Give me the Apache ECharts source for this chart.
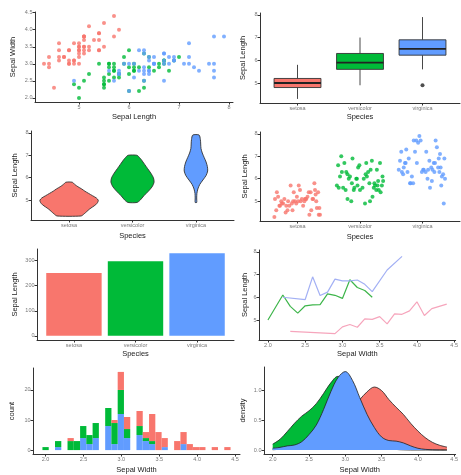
<!DOCTYPE html>
<html>
<head>
<meta charset="utf-8">
<script src="https://cdn.jsdelivr.net/npm/echarts@6/dist/echarts.min.js"></script>
<style>
  html, body { margin: 0; padding: 0; background: #fff; }
  #chart { width: 461px; height: 475px; }
</style>
</head>
<body>
<div id="chart"></div>
<script>
// iris: species names and colours
const speciesNames = ['setosa', 'versicolor', 'virginica'];
const speciesColors = ['#F8766D', '#00BA38', '#619CFF'];

// raw measurements (Sepal.Length / Sepal.Width) per species
const setosaSL = [5.1,4.9,4.7,4.6,5.0,5.4,4.6,5.0,4.4,4.9,5.4,4.8,4.8,4.3,5.8,5.7,5.4,5.1,5.7,5.1,5.4,5.1,4.6,5.1,4.8,5.0,5.0,5.2,5.2,4.7,4.8,5.4,5.2,5.5,4.9,5.0,5.5,4.9,4.4,5.1,5.0,4.5,4.4,5.0,5.1,4.8,5.1,4.6,5.3,5.0];
const setosaSW = [3.5,3.0,3.2,3.1,3.6,3.9,3.4,3.4,2.9,3.1,3.7,3.4,3.0,3.0,4.0,4.4,3.9,3.5,3.8,3.8,3.4,3.7,3.6,3.3,3.4,3.0,3.4,3.5,3.4,3.2,3.1,3.4,4.1,4.2,3.1,3.2,3.5,3.6,3.0,3.4,3.5,2.3,3.2,3.5,3.8,3.0,3.8,3.2,3.7,3.3];
const versicolorSL = [7.0,6.4,6.9,5.5,6.5,5.7,6.3,4.9,6.6,5.2,5.0,5.9,6.0,6.1,5.6,6.7,5.6,5.8,6.2,5.6,5.9,6.1,6.3,6.1,6.4,6.6,6.8,6.7,6.0,5.7,5.5,5.5,5.8,6.0,5.4,6.0,6.7,6.3,5.6,5.5,5.5,6.1,5.8,5.0,5.6,5.7,5.7,6.2,5.1,5.7];
const versicolorSW = [3.2,3.2,3.1,2.3,2.8,2.8,3.3,2.4,2.9,2.7,2.0,3.0,2.2,2.9,2.9,3.1,3.0,2.7,2.2,2.5,3.2,2.8,2.5,2.8,2.9,3.0,2.8,3.0,2.9,2.6,2.4,2.4,2.7,2.7,3.0,3.4,3.1,2.3,3.0,2.5,2.6,3.0,2.6,2.3,2.7,3.0,2.9,2.9,2.5,2.8];
const virginicaSL = [6.3,5.8,7.1,6.3,6.5,7.6,4.9,7.3,6.7,7.2,6.5,6.4,6.8,5.7,5.8,6.4,6.5,7.7,7.7,6.0,6.9,5.6,7.7,6.3,6.7,7.2,6.2,6.1,6.4,7.2,7.4,7.9,6.4,6.3,6.1,7.7,6.3,6.4,6.0,6.9,6.7,6.9,5.8,6.8,6.7,6.7,6.3,6.5,6.2,5.9];
const virginicaSW = [3.3,2.7,3.0,2.9,3.0,3.0,2.5,2.9,2.5,3.6,3.2,2.7,3.0,2.5,2.8,3.2,3.0,3.8,2.6,2.2,3.2,2.8,2.8,2.7,3.3,3.2,2.8,3.0,2.8,3.0,2.8,3.8,2.8,2.8,2.6,3.0,3.4,3.1,3.0,3.1,3.1,3.1,2.7,3.2,3.3,3.0,2.5,3.0,3.4,3.0];

// boxplot: [lower whisker, Q1, median, Q3, upper whisker]
const boxStats = [
  [4.3, 4.8, 5.0, 5.2, 5.8],
  [4.9, 5.6, 5.9, 6.3, 7.0],
  [5.6, 6.225, 6.5, 6.9, 7.9]
];
const boxOutliers = [[3, 4.9]];

// violin outlines: sepal length and half width (in category units)
const setosaViolinY = [4.3,4.4,4.5,4.6,4.7,4.8,4.9,5.0,5.1,5.2,5.3,5.4,5.5,5.6,5.7,5.8];
const setosaViolinW = [0.19,0.24,0.28,0.32,0.37,0.42,0.45,0.46,0.43,0.37,0.31,0.25,0.2,0.14,0.09,0.05];
const versicolorViolinY = [4.9,5.0,5.2,5.4,5.6,5.8,6.0,6.2,6.4,6.6,6.8,6.9,7.0];
const versicolorViolinW = [0.07,0.12,0.18,0.25,0.31,0.34,0.33,0.29,0.24,0.19,0.14,0.11,0.07];
const virginicaViolinY = [4.9,5.1,5.3,5.5,5.7,5.9,6.1,6.3,6.5,6.7,6.9,7.1,7.3,7.5,7.7,7.9];
const virginicaViolinW = [0.012,0.012,0.015,0.03,0.06,0.11,0.16,0.185,0.18,0.16,0.13,0.1,0.08,0.075,0.07,0.05];

// jitter offsets
const setosaJitter = [0.12,-0.25,0.31,-0.08,0.05,-0.33,0.22,-0.15,0.36,-0.02,0.18,-0.29,0.09,-0.37,0.27,-0.11,0.33,-0.21,0.02,0.14,-0.06,0.25,-0.34,0.07,-0.18,0.30,-0.26,0.16,-0.01,0.35,-0.13,0.21,-0.31,0.04,-0.23,0.11,0.28,-0.09,0.19,-0.36,0.01,-0.19,0.34,-0.04,0.24,-0.28,0.13,-0.16,0.29,-0.07];
const versicolorJitter = [-0.3,0.17,-0.12,0.26,-0.03,0.35,-0.22,0.08,-0.35,0.2,-0.14,0.29,-0.05,0.11,-0.27,0.32,-0.09,0.23,-0.2,0.04,0.37,-0.16,0.13,-0.32,0.27,-0.01,0.19,-0.25,0.06,-0.37,0.3,-0.1,0.15,-0.18,0.33,-0.06,0.1,-0.29,0.22,0.0,-0.23,0.36,-0.13,0.16,-0.34,0.28,-0.04,0.09,-0.2,0.24];
const virginicaJitter = [0.05,-0.2,0.28,-0.33,0.14,-0.07,0.34,-0.26,0.18,-0.12,0.25,0.02,-0.36,0.3,-0.15,0.09,-0.3,0.21,-0.03,0.36,-0.22,0.12,-0.1,0.27,-0.28,0.06,0.33,-0.17,0.16,-0.34,0.23,-0.05,0.01,-0.24,0.31,-0.14,0.19,-0.38,0.08,0.26,-0.09,0.35,-0.19,0.11,-0.27,0.2,-0.01,0.29,-0.31,0.15];

// bar: summed sepal length
const barSums = [250.3, 296.8, 329.4];

// line: mean sepal length per sepal width
const setosaLineX = [2.3,2.9,3.0,3.1,3.2,3.3,3.4,3.5,3.6,3.7,3.8,3.9,4.0,4.1,4.2,4.4];
const setosaLineY = [4.5,4.4,4.7,4.8,4.68,5.05,5.03,5.15,4.83,5.27,5.25,5.4,5.8,5.2,5.5,5.7];
const versicolorLineX = [2.0,2.2,2.3,2.4,2.5,2.6,2.7,2.8,2.9,3.0,3.1,3.2,3.3,3.4];
const versicolorLineY = [5.0,6.1,5.6,5.3,5.625,5.667,5.68,6.15,6.086,5.95,6.77,6.43,6.3,6.0];
const virginicaLineX = [2.2,2.5,2.6,2.7,2.8,2.9,3.0,3.1,3.2,3.3,3.4,3.6,3.8];
const virginicaLineY = [6.0,5.9,6.9,6.075,6.225,6.8,6.72,6.725,6.76,6.57,6.25,7.2,7.8];

// histogram (30 bins), non-empty bin centres and counts
const histCenters = [2.000,2.166,2.331,2.414,2.497,2.579,2.662,2.828,2.910,2.993,3.076,3.241,3.324,3.407,3.490,3.572,3.738,3.821,3.903,3.986,4.069,4.234,4.400];
const histSetosa =     [0,0,1,0,0,0,0,0,1,6,4,5,2,9,6,3,3,4,2,1,1,1,1];
const histVersicolor = [1,2,3,3,4,3,5,6,7,8,3,3,1,1,0,0,0,0,0,0,0,0,0];
const histVirginica =  [0,1,0,0,4,2,4,8,2,12,4,5,3,2,0,1,0,2,0,0,0,0,0];
const histBinWidth = 0.0828;

// density curves
const densityX = [2.0,2.1,2.2,2.3,2.4,2.5,2.6,2.7,2.8,2.9,3.0,3.1,3.2,3.3,3.4,3.5,3.6,3.7,3.8,3.9,4.0,4.1,4.2,4.3,4.4];
const setosaDensity = [0.005,0.015,0.04,0.06,0.055,0.04,0.05,0.1,0.2,0.35,0.55,0.72,0.85,0.98,1.06,1.0,0.85,0.72,0.6,0.45,0.32,0.21,0.13,0.08,0.05];
const versicolorDensity = [0.1,0.18,0.31,0.45,0.57,0.66,0.78,0.95,1.13,1.24,1.18,0.95,0.65,0.4,0.2,0.08,0.03,0.01,0.003,0,0,0,0,0,0];
const virginicaDensity = [0.03,0.045,0.07,0.085,0.14,0.26,0.42,0.68,0.98,1.22,1.32,1.17,0.88,0.6,0.38,0.22,0.16,0.15,0.12,0.07,0.03,0.012,0.004,0.001,0];

const FONT = 'Liberation Sans, Arial, sans-serif';
const fmt1 = v => v.toFixed(1);
const fmt0 = v => String(Math.round(v));
const fmtCat = v => speciesNames[Math.round(v) - 1];

function valueAxis(gi, min, max, ticks, fmt, name, gap) {
  return {
    type: 'value', gridIndex: gi, min: min, max: max,
    name: name, nameLocation: 'middle', nameGap: gap,
    nameTextStyle: { fontSize: 7.5, color: '#222', fontFamily: FONT },
    axisLine: { onZero: false, lineStyle: { color: '#333', width: 1 } },
    axisTick: { length: 2.5, customValues: ticks, lineStyle: { color: '#333' } },
    axisLabel: { customValues: ticks, formatter: fmt, fontSize: 5.5, color: '#777', margin: 2.5, fontFamily: FONT },
    splitLine: { show: false }
  };
}

const grids = [
  { left: 35, top: 12, width: 198, height: 90 },
  { left: 260, top: 13, width: 200, height: 90 },
  { left: 31, top: 131, width: 203, height: 89 },
  { left: 260, top: 132, width: 200, height: 89 },
  { left: 37, top: 249, width: 197, height: 91 },
  { left: 259, top: 250, width: 203, height: 90 },
  { left: 33, top: 368, width: 207, height: 89 },
  { left: 264, top: 367, width: 203, height: 90 }
];

const swTicks = [2, 2.5, 3, 3.5, 4, 4.5];
const slTicks = [5, 6, 7, 8];
const catTicks = [1, 2, 3];

const xAxes = [
  valueAxis(0, 4.12, 8.08, slTicks, fmt0, 'Sepal Length', 11),
  valueAxis(1, 0.4, 3.6, catTicks, fmtCat, 'Species', 10),
  valueAxis(2, 0.4, 3.6, catTicks, fmtCat, 'Species', 12),
  valueAxis(3, 0.4, 3.6, catTicks, fmtCat, 'Species', 12),
  valueAxis(4, 0.4, 3.6, catTicks, fmtCat, 'Species', 10),
  valueAxis(5, 1.88, 4.52, swTicks, fmt1, 'Sepal Width', 10),
  valueAxis(6, 1.834, 4.566, swTicks, fmt1, 'Sepal Width', 12),
  valueAxis(7, 1.88, 4.52, swTicks, fmt1, 'Sepal Width', 12)
];
const yAxes = [
  valueAxis(0, 1.88, 4.52, swTicks, fmt1, 'Sepal Width', 18),
  valueAxis(1, 4.12, 8.08, slTicks, fmt0, 'Sepal Length', 13),
  valueAxis(2, 4.12, 8.08, slTicks, fmt0, 'Sepal Length', 12),
  valueAxis(3, 4.12, 8.08, slTicks, fmt0, 'Sepal Length', 11),
  valueAxis(4, -16.47, 345.9, [0, 100, 200, 300], fmt0, 'Sepal Length', 18),
  valueAxis(5, 4.12, 8.08, slTicks, fmt0, 'Sepal Length', 10),
  valueAxis(6, -1.3, 27.3, [0, 10, 20], fmt0, 'count', 17),
  valueAxis(7, -0.0665, 1.397, [0, 0.5, 1], fmt1, 'density', 17)
];

const series = [];
const SL = [setosaSL, versicolorSL, virginicaSL];
const SW = [setosaSW, versicolorSW, virginicaSW];

// 1. scatter
SL.forEach((sl, s) => {
  series.push({
    type: 'scatter', xAxisIndex: 0, yAxisIndex: 0, symbolSize: 4,
    itemStyle: { color: speciesColors[s] },
    data: sl.map((v, i) => [v, SW[s][i]])
  });
});

// 2. boxplot
series.push({
  type: 'custom', xAxisIndex: 1, yAxisIndex: 1,
  data: boxStats.map((b, i) => [i + 1].concat(b)),
  renderItem: (params, api) => {
    const x = api.value(0);
    const hw = 0.375;
    const tl = api.coord([x - hw, api.value(4)]);
    const br = api.coord([x + hw, api.value(2)]);
    const hi = api.coord([x, api.value(5)]);
    const lo = api.coord([x, api.value(1)]);
    const md = api.coord([x, api.value(3)]);
    const st = { stroke: '#333', lineWidth: 0.9 };
    return { type: 'group', children: [
      { type: 'line', shape: { x1: hi[0], y1: hi[1], x2: hi[0], y2: tl[1] }, style: st },
      { type: 'line', shape: { x1: lo[0], y1: lo[1], x2: lo[0], y2: br[1] }, style: st },
      { type: 'rect', shape: { x: tl[0], y: tl[1], width: br[0] - tl[0], height: br[1] - tl[1] },
        style: { fill: speciesColors[params.dataIndex], stroke: '#333', lineWidth: 0.9 } },
      { type: 'line', shape: { x1: tl[0], y1: md[1], x2: br[0], y2: md[1] }, style: { stroke: '#222', lineWidth: 1.8 } }
    ] };
  }
});
series.push({
  type: 'scatter', xAxisIndex: 1, yAxisIndex: 1, symbolSize: 4,
  itemStyle: { color: '#222' }, data: boxOutliers
});

// 3. violin
const violins = [
  [setosaViolinY, setosaViolinW],
  [versicolorViolinY, versicolorViolinW],
  [virginicaViolinY, virginicaViolinW]
];
violins.forEach((vw, s) => {
  const ys = vw[0], ws = vw[1];
  series.push({
    type: 'custom', xAxisIndex: 2, yAxisIndex: 2,
    data: [[s + 1, ys[0]]],
    renderItem: (params, api) => {
      const c = api.value(0);
      const pts = [];
      for (let i = 0; i < ys.length; i++) pts.push(api.coord([c + ws[i], ys[i]]));
      for (let i = ys.length - 1; i >= 0; i--) pts.push(api.coord([c - ws[i], ys[i]]));
      return { type: 'polygon', shape: { points: pts, smooth: 0.25 },
        style: { fill: speciesColors[s], stroke: '#333', lineWidth: 0.9 } };
    }
  });
});

// 4. jitter
const jitters = [setosaJitter, versicolorJitter, virginicaJitter];
SL.forEach((sl, s) => {
  series.push({
    type: 'scatter', xAxisIndex: 3, yAxisIndex: 3, symbolSize: 4,
    itemStyle: { color: speciesColors[s] },
    data: sl.map((v, i) => [s + 1 + jitters[s][i], v])
  });
});

// 5. bar
series.push({
  type: 'custom', xAxisIndex: 4, yAxisIndex: 4,
  data: barSums.map((v, i) => [i + 1, v]),
  renderItem: (params, api) => {
    const x = api.value(0);
    const a = api.coord([x - 0.45, api.value(1)]);
    const b = api.coord([x + 0.45, 0]);
    return { type: 'rect', shape: { x: a[0], y: a[1], width: b[0] - a[0], height: b[1] - a[1] },
      style: { fill: speciesColors[params.dataIndex] } };
  }
});

// 6. lines
const lineColors = ['#F6A5BC', '#3DB54A', '#A3B0F4'];
[[setosaLineX, setosaLineY], [versicolorLineX, versicolorLineY], [virginicaLineX, virginicaLineY]].forEach((xy, s) => {
  series.push({
    type: 'line', xAxisIndex: 5, yAxisIndex: 5, symbol: 'none',
    lineStyle: { color: lineColors[s], width: 1.2 },
    data: xy[0].map((x, i) => [x, xy[1][i]])
  });
});

// 7. stacked histogram (virginica bottom, versicolor, setosa on top)
const histStack = [
  [histVirginica, 2, []],
  [histVersicolor, 1, [histVirginica]],
  [histSetosa, 0, [histVirginica, histVersicolor]]
];
histStack.forEach(h => {
  const counts = h[0], s = h[1], below = h[2];
  series.push({
    type: 'custom', xAxisIndex: 6, yAxisIndex: 6,
    data: histCenters.map((c, i) => {
      const base = below.reduce((acc, arr) => acc + arr[i], 0);
      return [c, base, base + counts[i]];
    }).filter(d => d[2] > d[1]),
    renderItem: (params, api) => {
      const a = api.coord([api.value(0) - histBinWidth / 2, api.value(2)]);
      const b = api.coord([api.value(0) + histBinWidth / 2, api.value(1)]);
      return { type: 'rect', shape: { x: a[0], y: a[1], width: b[0] - a[0], height: b[1] - a[1] },
        style: { fill: speciesColors[s] } };
    }
  });
});

// 8. density, each species layered over the previous one
[setosaDensity, versicolorDensity, virginicaDensity].forEach((d, s) => {
  series.push({
    type: 'line', xAxisIndex: 7, yAxisIndex: 7, symbol: 'none', smooth: 0.35,
    z: 2 + s,
    lineStyle: { color: '#222', width: 0.8 },
    itemStyle: { color: speciesColors[s] },
    areaStyle: { color: speciesColors[s], opacity: 1 },
    data: densityX.map((x, i) => [x, d[i]])
  });
});

const chart = echarts.init(document.getElementById('chart'));
chart.setOption({
  animation: false,
  backgroundColor: '#fff',
  textStyle: { fontFamily: FONT },
  grid: grids,
  xAxis: xAxes,
  yAxis: yAxes,
  series: series
});
</script>
</body>
</html>
